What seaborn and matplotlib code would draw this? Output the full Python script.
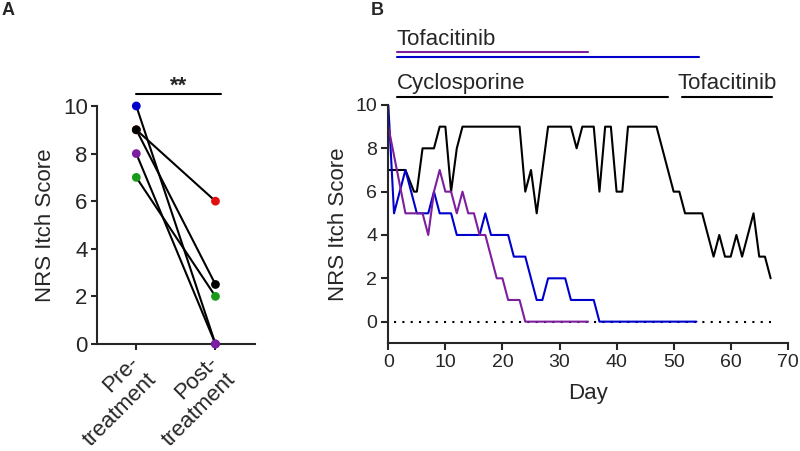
import pandas as pd
import numpy as np
import matplotlib.pyplot as plt
import seaborn as sns

# Panel A - pre / post treatment scores per patient
patients = ['blue', 'red', 'black', 'green', 'purple']
pre_scores = [10, 9, 9, 7, 8]
post_scores = [0, 6, 2.5, 2, 0]
conditions = ['Pre-\ntreatment', 'Post-\ntreatment']

# Panel B - daily NRS itch scores
black_days = [0, 3, 4.5, 5, 6, 8, 9, 10, 11, 12, 13, 23, 24, 25, 26, 28, 32, 33, 34, 36,
              37, 38, 39, 40, 41, 42, 47, 50, 51, 52, 55, 57, 58, 59, 60, 61, 62, 64, 65, 66, 67]
black_scores = [7, 7, 6, 6, 8, 8, 9, 9, 6, 8, 9, 9, 6, 7, 5, 9, 9, 8, 9, 9,
                6, 9, 9, 6, 6, 9, 9, 6, 6, 5, 5, 3, 4, 3, 3, 4, 3, 5, 3, 3, 2]
blue_days = [0, 1, 3, 5, 7, 8, 9, 11, 12, 16, 17, 18, 21, 22, 24, 26, 27, 28, 31, 32, 36, 37, 54]
blue_scores = [10, 5, 7, 5, 5, 6, 5, 5, 4, 4, 5, 4, 4, 3, 3, 1, 1, 2, 2, 1, 1, 0, 0]
purple_days = [0, 3, 6, 7, 8, 9, 10, 11, 12, 13, 14, 15, 16, 17, 19, 20, 21, 23, 24, 35]
purple_scores = [9, 5, 5, 4, 6, 7, 6, 6, 5, 6, 5, 5, 4, 4, 2, 2, 1, 1, 0, 0]
zero_line_days = [1, 67]

# treatment periods (days)
tofa_purple = [1.5, 35]
tofa_blue = [1.5, 54.5]
cyclo_black = [1.5, 49]
tofa_black = [51.4, 67.2]

colors = {'blue': '#0000CD', 'red': '#E01010', 'black': 'black',
          'green': '#1A9A1A', 'purple': '#7D1E9E'}

sns.set_style('ticks')
plt.rcParams['font.family'] = ['Liberation Sans', 'DejaVu Sans']

fig = plt.figure(figsize=(8, 4.51), dpi=100)
axA = fig.add_axes([0.1209, 0.2373, 0.1979, 0.5277])
axB = fig.add_axes([0.4854, 0.2388, 0.4993, 0.5284])

#Panel A
dfA = pd.DataFrame({'patient': patients * 2,
                    'time': [0] * len(patients) + [1] * len(patients),
                    'score': pre_scores + post_scores})
sns.lineplot(data=dfA, x='time', y='score', units='patient', estimator=None,
             color='black', lw=1.5, ax=axA, legend=False)
sns.scatterplot(data=dfA, x='time', y='score', hue='patient', palette=colors,
                s=40, edgecolor='none', zorder=3, clip_on=False, legend=False, ax=axA)

axA.set_xlim(-0.5, 1.5)
axA.set_ylim(0, 10)
axA.set_yticks(range(0, 11, 2))
axA.set_xticks([0, 1])
axA.set_xticklabels([])
# rotated two-line category labels, nudged left of the tick like the original
for i, lab in enumerate(conditions):
    axA.text(i - 0.1, -0.035, lab, transform=axA.get_xaxis_transform(), fontsize=16,
             rotation=45, ha='right', va='top', rotation_mode='anchor')
axA.set_xlabel('')
axA.set_ylabel('NRS Itch Score', fontsize=16, labelpad=5)
axA.tick_params(labelsize=16, width=1.5, length=4, pad=2.5)

axA.plot([0, 1.07], [10.5, 10.5], color='black', lw=1.5, clip_on=False)
axA.text(0.535, 10.6, '**', ha='center', va='baseline', fontsize=16, fontweight='bold')

#Panel B
axB.plot(zero_line_days, [0, 0], color='black', lw=1.5, ls=(0, (1, 3)), zorder=1)
sns.lineplot(x=black_days, y=black_scores, color='black', lw=1.5, estimator=None, sort=False, ax=axB)
sns.lineplot(x=blue_days, y=blue_scores, color=colors['blue'], lw=1.5, estimator=None, sort=False, ax=axB)
sns.lineplot(x=purple_days, y=purple_scores, color=colors['purple'], lw=1.5, estimator=None, sort=False, ax=axB)

axB.set_xlim(0, 70)
axB.set_ylim(-1, 10)
axB.set_yticks(range(0, 11, 2))
axB.set_xticks(range(0, 71, 10))
axB.set_xlabel('Day', fontsize=16, labelpad=8)
axB.set_ylabel('NRS Itch Score', fontsize=16, labelpad=5)
axB.tick_params(labelsize=14, width=1.5, length=5, pad=3)

axB.text(tofa_purple[0], 12.75, 'Tofacitinib', fontsize=16, va='baseline')
axB.plot(tofa_purple, [12.46, 12.46], color=colors['purple'], lw=1.5, clip_on=False)
axB.plot(tofa_blue, [12.2, 12.2], color=colors['blue'], lw=1.5, clip_on=False)
axB.text(cyclo_black[0], 10.72, 'Cyclosporine', fontsize=16, va='baseline')
axB.plot(cyclo_black, [10.39, 10.39], color='black', lw=1.5, clip_on=False)
axB.text(50.7, 10.72, 'Tofacitinib', fontsize=16, va='baseline')
axB.plot(tofa_black, [10.39, 10.39], color='black', lw=1.5, clip_on=False)

for ax in [axA, axB]:
    sns.despine(ax=ax)
    for sp in ['left', 'bottom']:
        ax.spines[sp].set_linewidth(1.5)

fig.text(2 / 800, 1 - 2 / 451, 'A', fontsize=13, fontweight='bold', va='top')
fig.text(371 / 800, 1 - 2 / 451, 'B', fontsize=13, fontweight='bold', va='top')

plt.savefig('out.png', dpi=100)
